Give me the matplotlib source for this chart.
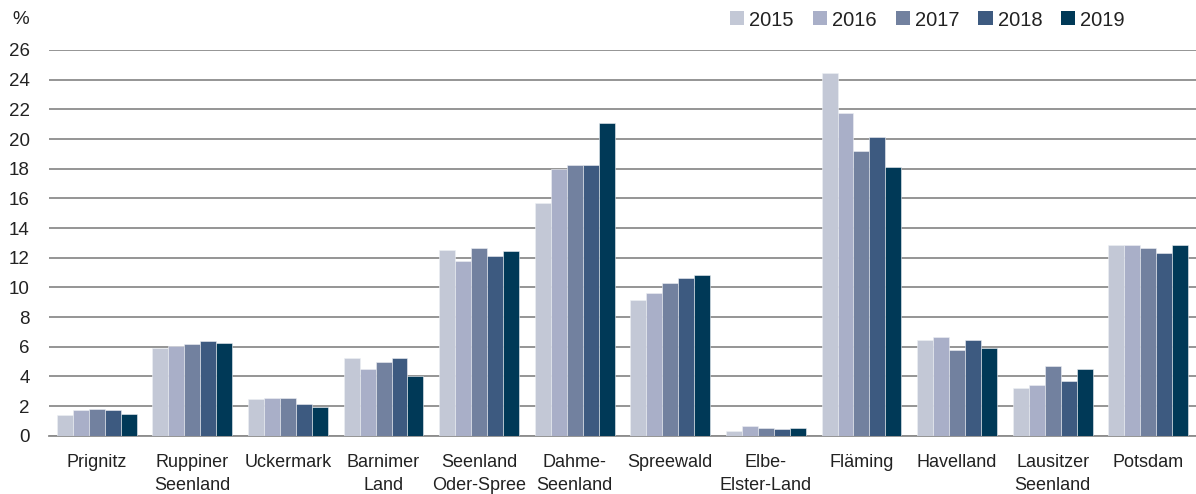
import matplotlib
matplotlib.use("Agg")
import matplotlib.pyplot as plt
from matplotlib.patches import Patch
import numpy as np

plt.rcParams['font.family'] = ['Liberation Sans', 'DejaVu Sans']

regions = ["Prignitz", "Ruppiner\nSeenland", "Uckermark", "Barnimer\nLand",
           "Seenland\nOder-Spree", "Dahme-\nSeenland", "Spreewald", "Elbe-\nElster-Land",
           "Fläming", "Havelland", "Lausitzer\nSeenland", "Potsdam"]
years = ["2015", "2016", "2017", "2018", "2019"]

v2015 = [1.41, 5.88, 2.46, 5.23, 12.54, 15.67, 9.16, 0.29, 24.44, 6.48, 3.20, 12.86]
v2016 = [1.70, 6.08, 2.57, 4.47, 11.78, 17.98, 9.59, 0.63, 21.74, 6.68, 3.40, 12.86]
v2017 = [1.79, 6.17, 2.57, 5.00, 12.66, 18.23, 10.32, 0.51, 19.18, 5.77, 4.67, 12.64]
v2018 = [1.70, 6.41, 2.12, 5.23, 12.12, 18.23, 10.64, 0.42, 20.14, 6.48, 3.71, 12.32]
v2019 = [1.47, 6.28, 1.94, 4.04, 12.43, 21.10, 10.86, 0.49, 18.12, 5.94, 4.47, 12.86]
series = [v2015, v2016, v2017, v2018, v2019]

colors = ["#C3C8D6", "#A9AFC8", "#72819F", "#3D5A80", "#003957"]
grid_color = "#8C8C8C"
text_color = "#222222"

fig = plt.figure(figsize=(11.96, 4.94), dpi=100)
ax = fig.add_axes([49 / 1196, (494 - 435.7) / 494, 1 - 49 / 1196, 385.7 / 494])

x = np.arange(len(regions))
bw = 0.167
for i, (vals, c) in enumerate(zip(series, colors)):
    ax.bar(x + (i - 2) * bw, vals, width=bw, color=c, edgecolor="#EEF0F4",
           linewidth=0.4, zorder=3, label=years[i])

ax.set_xlim(-0.5, len(regions) - 0.5)
ax.set_ylim(0, 26)
ax.set_yticks(np.arange(0, 27, 2))
ax.yaxis.grid(True, color=grid_color, linewidth=1.3, zorder=0)
ax.set_axisbelow(True)

for s in ["top", "right", "left"]:
    ax.spines[s].set_visible(False)
ax.spines["bottom"].set_color(grid_color)
ax.spines["bottom"].set_linewidth(1.3)

ax.set_xticks(x)
ax.set_xticklabels(regions, fontsize=13, color=text_color, linespacing=1.5)
ax.tick_params(axis="x", length=0, pad=13)
ax.tick_params(axis="y", length=0, pad=14, labelsize=13.5, labelcolor=text_color)
for lbl in ax.get_yticklabels():
    lbl.set_horizontalalignment("right")

fig.text(21 / 1196, 1 - 20 / 494, "%", fontsize=13.5, color=text_color,
         ha="center", va="center")

handles = [Patch(facecolor=c, edgecolor="none") for c in colors]
fig.legend(handles, years, ncol=5, loc="center left",
           bbox_to_anchor=(730 / 1196, 1 - 20 / 494), frameon=False,
           fontsize=14.5, handlelength=0.7, handleheight=0.7,
           handletextpad=0.25, columnspacing=0.95, labelcolor=text_color,
           borderaxespad=0, borderpad=0)

fig.savefig("out.png", dpi=100)
